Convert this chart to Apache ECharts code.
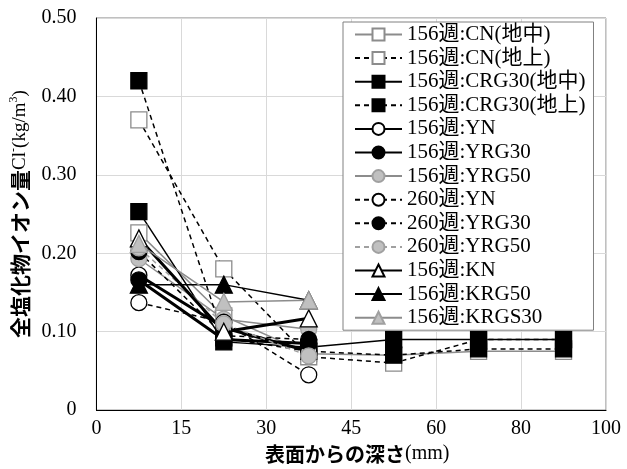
<!DOCTYPE html>
<html>
<head>
<meta charset="utf-8">
<script src="https://cdn.jsdelivr.net/npm/echarts@6/dist/echarts.min.js"></script>
<style>html,body{margin:0;padding:0;background:#fff;}#c{width:627px;height:469px;}</style>
</head>
<body>
<div id="c"></div>
<script>
// ---- data ----
const depths = ['7.5', '22.5', '37.5', '52.5', '70', '90'];
const tickLabels = ['0', '15', '30', '45', '60', '80', '100'];
const names = ['156週:CN(地中)', '156週:CN(地上)', '156週:CRG30(地中)', '156週:CRG30(地上)',
  '156週:YN', '156週:YRG30', '156週:YRG50', '260週:YN', '260週:YRG30', '260週:YRG50',
  '156週:KN', '156週:KRG50', '156週:KRGS30'];
const cnUnder   = [0.226, 0.120, 0.072, 0.070, 0.075, 0.075];
const cnAbove   = [0.370, 0.180, 0.068, 0.060, 0.090, 0.090];
const crgUnder  = [0.253, 0.087, 0.080, 0.090, 0.090, 0.090];
const crgAbove  = [0.420, 0.092, 0.075, 0.070, 0.078, 0.078];
const yn156     = [0.172, 0.105, 0.075];
const yrg30_156 = [0.166, 0.090, 0.085];
const yrg50_156 = [0.193, 0.116, 0.103];
const yn260     = [0.137, 0.112, 0.045];
const yrg30_260 = [0.202, 0.095, 0.090];
const yrg50_260 = [0.207, 0.110, 0.069];
const kn156     = [0.219, 0.100, 0.117];
const krg50     = [0.160, 0.160, 0.140];
const krgs30    = [0.212, 0.138, 0.140];

// ---- styles ----
const GRAY_LINE = '#8c8c8c', GRAY_FILL = '#c0c0c0', GRAY_BORDER = '#a0a0a0';
const DASH = [5, 4];
function mk(name, data, symbol, fill, border, lineColor, lineWidth, lineType, size) {
  return {
    name, type: 'line', data, symbol, symbolSize: size,
    itemStyle: { color: fill, borderColor: border, borderWidth: 1.3, opacity: 1 },
    lineStyle: { color: lineColor, width: lineWidth, type: lineType },
    emphasis: { disabled: true }, animation: false, z: 2
  };
}
const sq = 16, ci = 16, tr = 17;
const series = [
  mk(names[0], cnUnder, 'rect', '#fff', GRAY_LINE, GRAY_LINE, 1.5, 'solid', sq),
  mk(names[1], cnAbove, 'rect', '#fff', GRAY_LINE, '#000', 1.5, DASH, sq),
  mk(names[2], crgUnder, 'rect', '#000', '#000', '#000', 1.5, 'solid', sq),
  mk(names[3], crgAbove, 'rect', '#000', '#000', '#000', 1.5, DASH, sq),
  mk(names[4], yn156, 'circle', '#fff', '#000', '#000', 3, 'solid', ci),
  mk(names[5], yrg30_156, 'circle', '#000', '#000', '#000', 3, 'solid', ci),
  mk(names[6], yrg50_156, 'circle', GRAY_FILL, GRAY_BORDER, GRAY_LINE, 1.5, 'solid', ci),
  mk(names[7], yn260, 'circle', '#fff', '#000', '#000', 1.5, DASH, ci),
  mk(names[8], yrg30_260, 'circle', '#000', '#000', '#000', 1.5, DASH, ci),
  mk(names[9], yrg50_260, 'circle', GRAY_FILL, GRAY_BORDER, GRAY_BORDER, 1.5, DASH, ci),
  mk(names[10], kn156, 'triangle', '#fff', '#000', '#000', 3, 'solid', tr),
  mk(names[11], krg50, 'triangle', '#000', '#000', '#000', 1.5, 'solid', tr),
  mk(names[12], krgs30, 'triangle', GRAY_FILL, GRAY_BORDER, GRAY_LINE, 1.5, 'solid', tr)
];

const SERIF = "'Liberation Serif', 'Noto Sans CJK JP', serif";
const JP = "'Noto Sans CJK JP', sans-serif";

const chart = echarts.init(document.getElementById('c'), null, { renderer: 'canvas' });
chart.setOption({
  backgroundColor: '#fff',
  animation: false,
  grid: { left: 96, right: 21, top: 18, bottom: 51, show: true, borderColor: '#808080', borderWidth: 1, backgroundColor: 'transparent' },
  legend: {
    orient: 'vertical', left: 343, top: 22,
    backgroundColor: '#fff', borderColor: '#808080', borderWidth: 1,
    padding: [2, 8, 2, 11], itemGap: 2.6, itemWidth: 47, itemHeight: 15,
    textStyle: { fontFamily: SERIF, fontSize: 21, color: '#000', lineHeight: 21 },
    data: names
  },
  xAxis: [
    {
      type: 'category', data: depths, boundaryGap: true, position: 'bottom',
      axisLine: { show: true, lineStyle: { color: '#000', width: 1 } },
      axisTick: { show: false }, axisLabel: { show: false },
      splitLine: { show: true, lineStyle: { color: '#d9d9d9', width: 1 } }
    },
    {
      type: 'category', data: tickLabels, boundaryGap: false, position: 'bottom',
      axisLine: { show: false }, axisTick: { show: false }, splitLine: { show: false },
      axisLabel: { fontFamily: SERIF, fontSize: 20, color: '#000', margin: 9, interval: 0 },
      name: '{b|表面からの深さ}{n|(mm)}', nameLocation: 'middle', nameGap: 25,
      nameTextStyle: {
        padding: [0, 0, 0, 12],
        rich: {
          b: { fontFamily: JP, fontWeight: 'bold', fontSize: 20, color: '#000', lineHeight: 22 },
          n: { fontFamily: SERIF, fontSize: 20, color: '#000', lineHeight: 22 }
        }
      }
    }
  ],
  yAxis: {
    type: 'value', min: 0, max: 0.5, interval: 0.1,
    axisLine: { show: true, lineStyle: { color: '#000', width: 1 } },
    axisTick: { show: false },
    axisLabel: { fontFamily: SERIF, fontSize: 20, color: '#000', margin: 20,
      formatter: v => (v === 0 ? '0' : v.toFixed(2)) },
    splitLine: { show: true, lineStyle: { color: '#d9d9d9', width: 1 } },
    name: '{jp|全塩化物イオン量}{en|Cl}{sup|-}{en|(kg/m}{sup|3}{en|)}',
    nameLocation: 'middle', nameGap: 63,
    nameTextStyle: {
      rich: {
        jp: { fontFamily: JP, fontWeight: 'bold', fontSize: 21, color: '#000', lineHeight: 24 },
        en: { fontFamily: SERIF, fontSize: 19, color: '#000', lineHeight: 24 },
        sup: { fontFamily: SERIF, fontSize: 12, color: '#000', lineHeight: 24, verticalAlign: 'top' }
      }
    }
  },
  series: series
});
</script>
</body>
</html>
